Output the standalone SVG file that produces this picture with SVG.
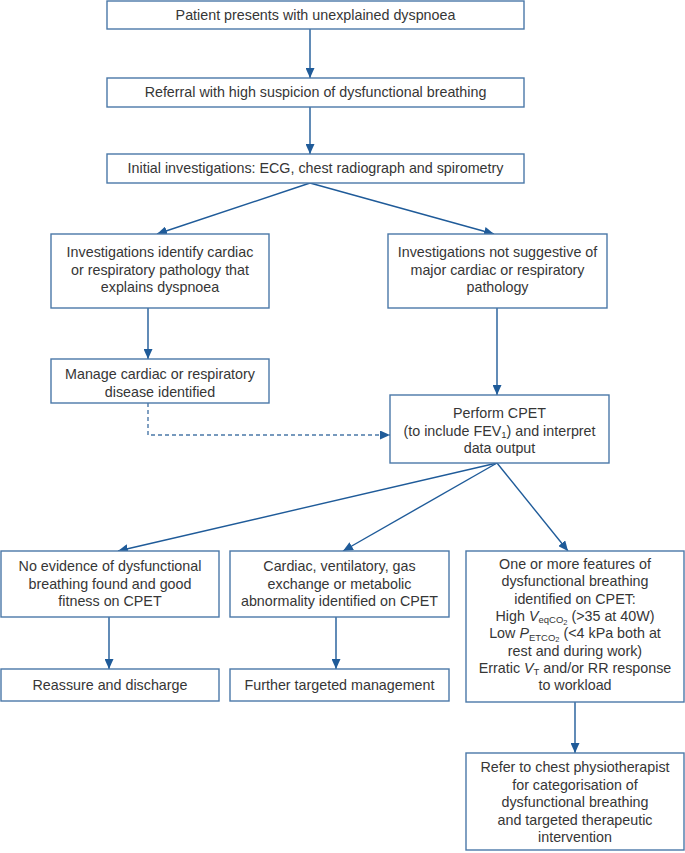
<svg xmlns="http://www.w3.org/2000/svg" width="685" height="853" viewBox="0 0 685 853">
<style>
  .box { fill: #ffffff; stroke: #4a78a8; stroke-width: 1.4; }
  .t { font-family: "Liberation Sans", Arial, sans-serif; font-size: 14.3px; fill: #363636; text-anchor: middle; }
  .sub { font-size: 9.5px; }
  .sub2 { font-size: 7.5px; }
  .it { font-style: italic; }
  .c { fill: none; stroke: #1f5b99; stroke-width: 1.4; }
  .dash { fill: none; stroke: #4a78a8; stroke-width: 1.4; stroke-dasharray: 4 3; }
</style>
<defs>
  <marker id="ah" markerUnits="userSpaceOnUse" markerWidth="10" markerHeight="9" refX="10" refY="4.5" orient="auto" viewBox="0 0 10 9">
    <path d="M0,0 L10,4.5 L0,9 z" fill="#1f5b99"/>
  </marker>
</defs>
<rect width="685" height="853" fill="#ffffff"/>

<g id="connectors">
  <path class="c" d="M310,29 V78" marker-end="url(#ah)"/>
  <path class="c" d="M310,107 V154" marker-end="url(#ah)"/>
  <path class="c" d="M310,183 L157,234" marker-end="url(#ah)"/>
  <path class="c" d="M310,183 L494,234" marker-end="url(#ah)"/>
  <path class="c" d="M148,308 V359" marker-end="url(#ah)"/>
  <path class="c" d="M497,308 V395" marker-end="url(#ah)"/>
  <path class="dash" d="M148,403 V435 H390" marker-end="url(#ah)"/>
  <path class="c" d="M497,463 L118,551" marker-end="url(#ah)"/>
  <path class="c" d="M497,463 L343,551" marker-end="url(#ah)"/>
  <path class="c" d="M497,463 L568,551" marker-end="url(#ah)"/>
  <path class="c" d="M109,617 V669" marker-end="url(#ah)"/>
  <path class="c" d="M336,617 V669" marker-end="url(#ah)"/>
  <path class="c" d="M575,702 V753" marker-end="url(#ah)"/>
</g>

<g id="n1">
  <rect class="box" x="107" y="1" width="417" height="28"/>
  <text class="t" x="315.5" y="19.5">Patient presents with unexplained dyspnoea</text>
</g>
<g id="n2">
  <rect class="box" x="107" y="78" width="417" height="29"/>
  <text class="t" x="315.5" y="97">Referral with high suspicion of dysfunctional breathing</text>
</g>
<g id="n3">
  <rect class="box" x="107" y="154" width="417" height="29"/>
  <text class="t" x="315.5" y="173">Initial investigations: ECG, chest radiograph and spirometry</text>
</g>
<g id="n4">
  <rect class="box" x="51" y="234" width="218" height="74"/>
  <text class="t" x="160" y="257">Investigations identify cardiac</text>
  <text class="t" x="160" y="274.5">or respiratory pathology that</text>
  <text class="t" x="160" y="292">explains dyspnoea</text>
</g>
<g id="n5">
  <rect class="box" x="388" y="234" width="219" height="74"/>
  <text class="t" x="497.5" y="257">Investigations not suggestive of</text>
  <text class="t" x="497.5" y="274.5">major cardiac or respiratory</text>
  <text class="t" x="497.5" y="292">pathology</text>
</g>
<g id="n6">
  <rect class="box" x="51" y="359" width="218" height="44"/>
  <text class="t" x="160" y="379">Manage cardiac or respiratory</text>
  <text class="t" x="160" y="396.5">disease identified</text>
</g>
<g id="n7">
  <rect class="box" x="390" y="395" width="219" height="68"/>
  <text class="t" x="499.5" y="418">Perform CPET</text>
  <text class="t" x="499.5" y="435.5">(to include FEV<tspan class="sub" dy="2.5">1</tspan><tspan dy="-2.5">) and interpret</tspan></text>
  <text class="t" x="499.5" y="453">data output</text>
</g>
<g id="n8">
  <rect class="box" x="1" y="551" width="218" height="66"/>
  <text class="t" x="110" y="571">No evidence of dysfunctional</text>
  <text class="t" x="110" y="588.5">breathing found and good</text>
  <text class="t" x="110" y="606">fitness on CPET</text>
</g>
<g id="n9">
  <rect class="box" x="230" y="551" width="219" height="66"/>
  <text class="t" x="339.5" y="571">Cardiac, ventilatory, gas</text>
  <text class="t" x="339.5" y="588.5">exchange or metabolic</text>
  <text class="t" x="339.5" y="606">abnormality identified on CPET</text>
</g>
<g id="n10">
  <rect class="box" x="466" y="551" width="218" height="151"/>
  <text class="t" x="575" y="569">One or more features of</text>
  <text class="t" x="575" y="586.3">dysfunctional breathing</text>
  <text class="t" x="575" y="603.6">identified on CPET:</text>
  <text class="t" x="575" y="620.9">High <tspan class="it">V</tspan><tspan class="sub" dy="2.5">eqCO</tspan><tspan class="sub2" dy="1.5">2</tspan><tspan dy="-4"> (&gt;35 at 40W)</tspan></text>
  <text class="t" x="575" y="638.2">Low <tspan class="it">P</tspan><tspan class="sub" dy="2.5">ETCO</tspan><tspan class="sub2" dy="1.5">2</tspan><tspan dy="-4"> (&lt;4 kPa both at</tspan></text>
  <text class="t" x="575" y="655.5">rest and during work)</text>
  <text class="t" x="575" y="672.8">Erratic <tspan class="it">V</tspan><tspan class="sub" dy="2.5">T</tspan><tspan dy="-2.5"> and/or RR response</tspan></text>
  <text class="t" x="575" y="690.1">to workload</text>
</g>
<g id="n11">
  <rect class="box" x="1" y="669" width="218" height="32"/>
  <text class="t" x="110" y="690">Reassure and discharge</text>
</g>
<g id="n12">
  <rect class="box" x="230" y="669" width="219" height="32"/>
  <text class="t" x="339.5" y="690">Further targeted management</text>
</g>
<g id="n13">
  <rect class="box" x="466" y="753" width="218" height="97"/>
  <text class="t" x="575" y="772">Refer to chest physiotherapist</text>
  <text class="t" x="575" y="789.5">for categorisation of</text>
  <text class="t" x="575" y="807">dysfunctional breathing</text>
  <text class="t" x="575" y="824.5">and targeted therapeutic</text>
  <text class="t" x="575" y="842">intervention</text>
</g>
</svg>
